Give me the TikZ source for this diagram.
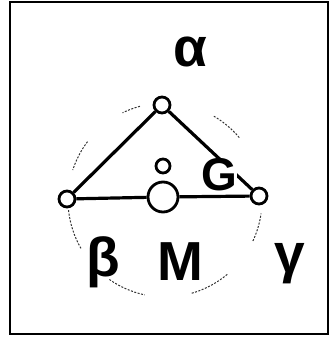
\documentclass[tikz,border=0pt]{standalone}
\usepackage{fontspec}
\setmainfont{Liberation Sans}
\usepackage{tikz}
\usetikzlibrary{positioning, calc}

\begin{document}
\begin{tikzpicture}[
    x=1pt, y=-1pt, line width=3.2pt,
    node_vertex/.style={circle, draw=black, fill=white, line width=2.8pt, minimum size=16pt, inner sep=0pt},
    node_label/.style={font=\fontsize{55}{55}\selectfont\bfseries, inner sep=0pt},
    arc_dash/.style={line width=1pt, dash pattern=on 2pt off 1.5pt, black!80}
]
\useasboundingbox (0,0) rectangle (330,350);
\draw[line width=2.2pt] (10,2) rectangle (328,334);
% dotted circle fragments
\coordinate (ctr) at (165,200);
\foreach \s/\e in {105/116, 40/60, 143/162, 186/210, 235/258, 286/310, 335/352}
    \draw[arc_dash] ($(ctr)+(-\s:97)$) arc[start angle=-\s, end angle=-\e, radius=97];
% triangle
\node[node_vertex] (a) at (162,105) {};
\node[node_vertex] (b) at (67,199) {};
\node[node_vertex] (c) at (259,196) {};
\node[node_vertex, minimum size=30pt] (m) at (163,197) {};
\node[node_vertex, minimum size=14pt] (o) at (163,166) {};
\draw (a) -- (b);
\draw (b) -- (m) -- (c);
\draw (a) -- (c);
\node[node_label, fill=white, font=\fontsize{46}{46}\selectfont\bfseries] (g) at (219,175) {G};
% labels
\node[node_label] (la) at (190,52) {α};
\node[node_label] (lb) at (103,262) {β};
\node[node_label] (lm) at (180,262) {M};
\node[node_label] (lc) at (290,264) {γ};
\end{tikzpicture}
\end{document}
